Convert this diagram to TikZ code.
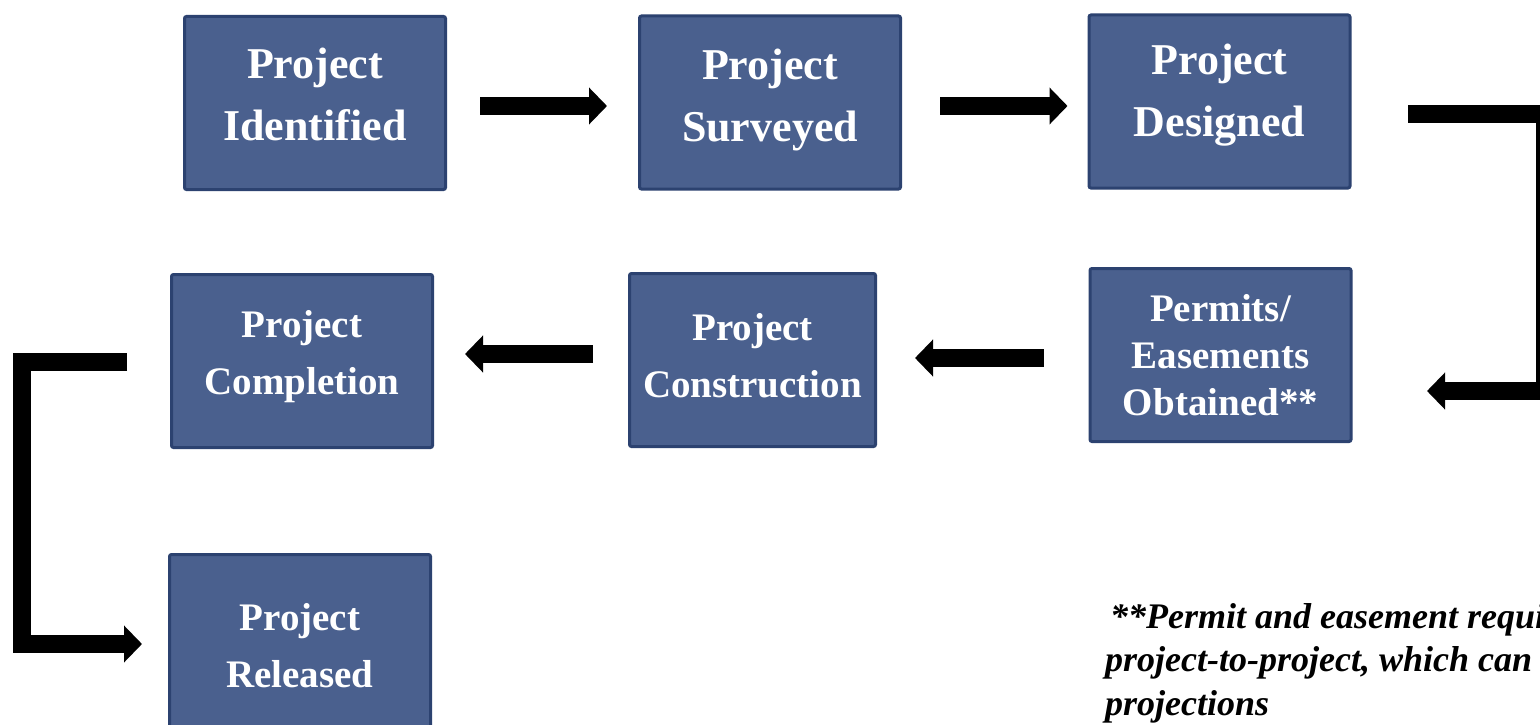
\documentclass[tikz,border=0pt]{standalone}
\usepackage{fontspec}
\setmainfont{Liberation Serif}
\usetikzlibrary{arrows.meta,calc}
\definecolor{boxfill}{RGB}{74,96,142}
\definecolor{boxline}{RGB}{44,66,112}
\newcommand\boxtext[2]{\raisebox{#1}[\height][\depth]{\begin{tabular}{@{}c@{}}#2\end{tabular}}}
\begin{document}
\begin{tikzpicture}[x=1pt,y=-1pt,
  stage/.style={draw=boxline, fill=boxfill, line width=3pt, rounded corners=2pt,
    minimum width=261pt, minimum height=173pt, text=white, inner sep=0pt,
    font=\bfseries\fontsize{39}{57}\selectfont},
  big/.style={font=\bfseries\fontsize{44}{62}\selectfont},
  flow/.style={line width=18pt, -{Triangle[length=18pt,width=36pt]}},
  note/.style={anchor=base west, align=left, inner sep=0pt,
    font=\bfseries\itshape\fontsize{36}{43.5}\selectfont}
  ]
\useasboundingbox (0,0) rectangle (1540,725);
\clip (0,0) rectangle (1540,725);
\fill[white] (0,0) rectangle (1540,725);

\node[stage,big] (ident) at (315,103) {\boxtext{6pt}{Project\\Identified}};
\node[stage,big] (surv) at (770,102.5) {\boxtext{4.5pt}{Project\\Surveyed}};
\node[stage,big] (desg) at (1219.5,101.5) {\boxtext{8pt}{Project\\Designed}};
\node[stage, font=\bfseries\fontsize{39}{47}\selectfont] (perm) at (1220.5,355) {\boxtext{-4.5pt}{Permits/\\Easements\\Obtained**}};
\node[stage, minimum width=246pt] (cons) at (752.5,360) {\boxtext{2pt}{Project\\Construction}};
\node[stage] (comp) at (302,361) {\boxtext{6pt}{Project\\Completion}};
\node[stage] (rel) at (300,641) {\boxtext{-7pt}{Project\\Released}};

\draw[flow] ($(ident.east)+(33,3)$) -- ($(surv.west)+(-31,3.5)$);
\draw[flow] ($(surv.east)+(38,3.5)$) -- ($(desg.west)+(-20,4.5)$);

\coordinate (dstart) at (1408,114);
\coordinate (dend) at (1427,391);
\draw[flow] (dstart) -- (1545,114) |- (dend);

\draw[flow] ($(perm.west)+(-45,3)$) -- ($(cons.east)+(38,-2)$);
\draw[flow] ($(cons.west)+(-35,-6)$) -- ($(comp.east)+(31,-7)$);

\coordinate (cstart) at (127,362);
\coordinate (cend) at (142,644);
\draw[flow] (cstart) -- (22,362) |- (cend);

\node[note] (fn) at (1105,715) {\hspace{5pt}**Permit and easement requirements vary from\\project-to-project, which can affect schedule\\projections};
\end{tikzpicture}
\end{document}
